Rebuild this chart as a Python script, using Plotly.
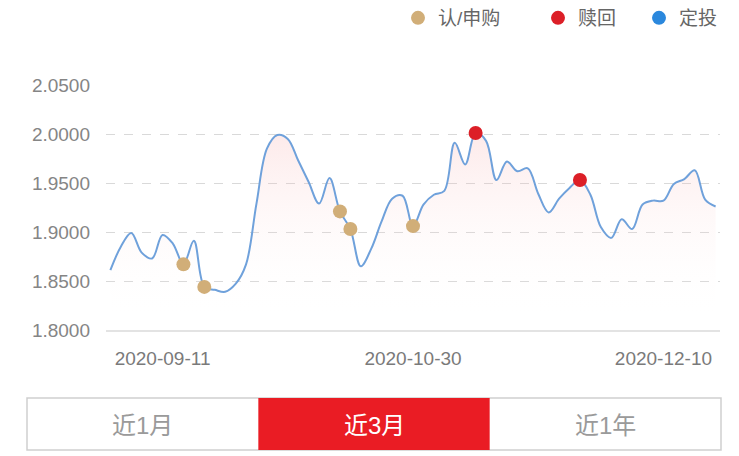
import plotly.graph_objects as go

# trading days shown on the category axis
dates = [
    '2020-09-04', '2020-09-07', '2020-09-08', '2020-09-09', '2020-09-10',
    '2020-09-11', '2020-09-14', '2020-09-15', '2020-09-17', '2020-09-18',
    '2020-09-21', '2020-09-22', '2020-09-24', '2020-09-25', '2020-09-28',
    '2020-09-30', '2020-10-09', '2020-10-12', '2020-10-13', '2020-10-15',
    '2020-10-16', '2020-10-19', '2020-10-20', '2020-10-22', '2020-10-23',
    '2020-10-26', '2020-10-27', '2020-10-28', '2020-10-29', '2020-10-30',
    '2020-11-02', '2020-11-03', '2020-11-04', '2020-11-06', '2020-11-09',
    '2020-11-10', '2020-11-11', '2020-11-13', '2020-11-16', '2020-11-17',
    '2020-11-18', '2020-11-20', '2020-11-23', '2020-11-24', '2020-11-25',
    '2020-11-27', '2020-11-30', '2020-12-01', '2020-12-02', '2020-12-04',
    '2020-12-07', '2020-12-08', '2020-12-09', '2020-12-10', '2020-12-11',
    '2020-12-14', '2020-12-15', '2020-12-16', '2020-12-17',
]

nav = [
    1.861, 1.885, 1.899, 1.879, 1.873, 1.897, 1.888, 1.867, 1.891, 1.844,
    1.841, 1.839, 1.847, 1.867, 1.929, 1.985, 1.999, 1.995, 1.973, 1.951,
    1.929, 1.955, 1.921, 1.903, 1.865, 1.883, 1.911, 1.934, 1.937, 1.906,
    1.928, 1.938, 1.942, 1.991, 1.969, 2.001, 1.993, 1.953, 1.972, 1.962,
    1.965, 1.939, 1.920, 1.934, 1.945, 1.953, 1.938, 1.905, 1.894, 1.913,
    1.903, 1.928, 1.932, 1.932, 1.949, 1.954, 1.963, 1.933, 1.926,
]

# trade points (indices into dates)
buy_idx = [7, 9, 22, 23, 29]
redeem_idx = [35, 45]
plan_idx = []

y_ticks = [1.80, 1.85, 1.90, 1.95, 2.00, 2.05]
x_ticks = ['2020-09-11', '2020-10-30', '2020-12-10']
periods = ['近1月', '近3月', '近1年']
selected = '近3月'

FONT = 'Liberation Sans, Noto Sans CJK SC, sans-serif'
OFF = 8  # page body margin
W, H = 739 - OFF, 456 - OFF
L, R, T, B = 106 - OFF, 19, 85 - OFF, 126


# screen pixel -> paper coords
def px(x):
    return (x - OFF - L) / (W - L - R)


def py(y):
    return (H - B - (y - OFF)) / (H - T - B)


fig = go.Figure()

# baseline for the gradient fill
fig.add_trace(go.Scatter(
    x=dates, y=[y_ticks[0]] * len(dates),
    mode='lines', line=dict(width=0), showlegend=False, hoverinfo='skip'
))
fig.add_trace(go.Scatter(
    x=dates, y=nav, mode='lines', name='净值',
    line=dict(color='#6fa1db', width=2, shape='spline', smoothing=1),
    fill='tonexty',
    fillgradient=dict(type='vertical', start=1.81, stop=2.0,
                      colorscale=[[0, 'rgba(255,255,255,0)'],
                                  [1, 'rgba(245,160,160,0.22)']]),
    showlegend=False
))
fig.add_trace(go.Scatter(
    x=[dates[i] for i in buy_idx], y=[nav[i] for i in buy_idx],
    mode='markers', name='认/申购', legend='legend',
    marker=dict(color='#d1ae78', size=14)
))
fig.add_trace(go.Scatter(
    x=[dates[i] for i in redeem_idx], y=[nav[i] for i in redeem_idx],
    mode='markers', name='赎回', legend='legend2',
    marker=dict(color='#dc1f27', size=14)
))
fig.add_trace(go.Scatter(
    x=[dates[i] for i in plan_idx] or [None], y=[nav[i] for i in plan_idx] or [None],
    mode='markers', name='定投', legend='legend3',
    marker=dict(color='#2b88dd', size=14)
))

# period switcher under the chart
shapes = [dict(type='rect', xref='paper', yref='paper',
               x0=px(27), x1=px(721), y0=py(398), y1=py(450),
               line=dict(color='#cfcfcf', width=1.5), fillcolor='white', layer='below')]
annotations = []
btn_w = (721 - 27) / len(periods)
for k, p in enumerate(periods):
    x0 = 27 + k * btn_w
    if p == selected:
        shapes.append(dict(type='rect', xref='paper', yref='paper',
                           x0=px(x0), x1=px(x0 + btn_w), y0=py(398), y1=py(450),
                           line=dict(width=0), fillcolor='#ea1c24'))
    annotations.append(dict(
        text=p, xref='paper', yref='paper', x=px(x0 + btn_w / 2), y=py(425),
        showarrow=False, xanchor='center', yanchor='middle',
        font=dict(family=FONT, size=24, color='white' if p == selected else '#9a9a9a')
    ))


def legend_at(dot_x):
    return dict(xref='container', yref='container',
                x=(dot_x - OFF - 20) / W, xanchor='left',
                y=1 - 10 / H, yanchor='middle',
                font=dict(size=19, color='#666666'), itemwidth=30,
                bgcolor='rgba(0,0,0,0)')


fig.update_layout(
    width=W, height=H,
    margin=dict(l=L, r=R, t=T, b=B, autoexpand=False),
    paper_bgcolor='white', plot_bgcolor='white',
    font=dict(family=FONT),
    showlegend=True,
    legend=legend_at(418),
    legend2=legend_at(558),
    legend3=legend_at(659),
    xaxis=dict(
        type='category', range=[-0.42, len(dates) - 1 + 0.42],
        tickmode='array', tickvals=x_ticks, ticktext=x_ticks,
        showgrid=False, zeroline=False,
        showline=True, linecolor='#e3e3e3', linewidth=1.5,
        ticks='', ticklabelstandoff=10,
        tickfont=dict(size=19, color='#7a7a7a'),
    ),
    yaxis=dict(
        range=[y_ticks[0], y_ticks[-1]],
        tickvals=y_ticks, tickformat='.4f',
        showgrid=True, gridcolor='#d9d9d9', griddash='dash', gridwidth=1,
        zeroline=False, showline=False, ticks='', ticklabelstandoff=15,
        tickfont=dict(size=19, color='#858585'),
    ),
    shapes=shapes,
    annotations=annotations,
)

fig.write_html('out.html')
